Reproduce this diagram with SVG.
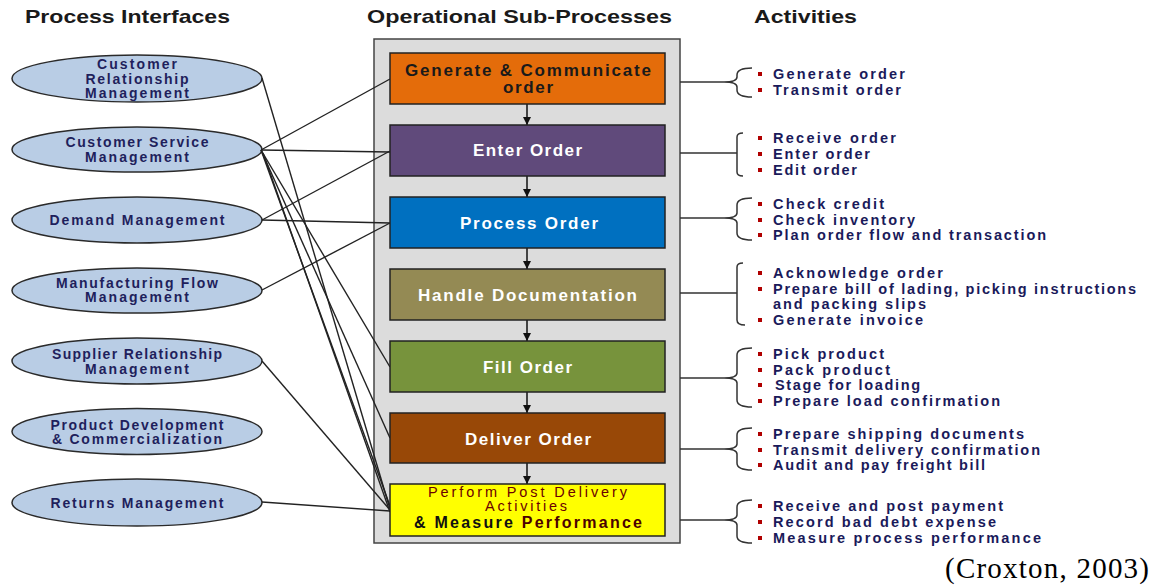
<svg xmlns="http://www.w3.org/2000/svg" width="1152" height="587" viewBox="0 0 1152 587">
<style>
.hdr{font-family:"Liberation Sans",Arial,sans-serif;font-weight:bold;font-size:19px;fill:#1a1a1a}
.ell{fill:#b9cde5;stroke:#2a2a2a;stroke-width:1.5}
.et{font-family:"Liberation Sans",Arial,sans-serif;font-weight:bold;font-size:14px;fill:#1f1f5c;text-anchor:middle}
.box{stroke:#222;stroke-width:1.5}
.bt{font-family:"Liberation Sans",Arial,sans-serif;font-weight:bold;font-size:17px;text-anchor:middle}
.pt{font-family:"Liberation Sans",Arial,sans-serif;font-size:14.5px;text-anchor:middle;fill:#6b0000}
.it{font-family:"Liberation Sans",Arial,sans-serif;font-weight:bold;font-size:14.5px;fill:#1a1a5a}
.bul{fill:#b00000}
.con{stroke:#222;stroke-width:1.4;fill:none}
.brc{stroke:#333;stroke-width:1.5;fill:none}
.flow{stroke:#111;stroke-width:1.5;fill:none}
</style>
<defs>
<marker id="ah" viewBox="0 0 10 10" refX="10" refY="5" markerWidth="8" markerHeight="8" markerUnits="userSpaceOnUse" orient="auto">
<path d="M0,0 L10,5 L0,10 z" fill="#111"/>
</marker>
</defs>
<rect width="1152" height="587" fill="#ffffff"/>

<!-- headers -->
<text class="hdr" x="25" y="23" textLength="205" lengthAdjust="spacingAndGlyphs">Process Interfaces</text>
<text class="hdr" x="367" y="23" textLength="305" lengthAdjust="spacingAndGlyphs">Operational Sub-Processes</text>
<text class="hdr" x="754" y="23" textLength="103" lengthAdjust="spacingAndGlyphs">Activities</text>

<!-- container -->
<rect id="container" x="374" y="39" width="306" height="504" fill="#dcdcdc" stroke="#444" stroke-width="1.5"/>

<!-- process interfaces -->
<g id="crm"><ellipse class="ell" cx="137" cy="78.5" rx="125" ry="23.5"/>
<text class="et" x="137" y="69" textLength="80" lengthAdjust="spacing">Customer</text>
<text class="et" x="137" y="83.5" textLength="103" lengthAdjust="spacing">Relationship</text>
<text class="et" x="137" y="98" textLength="104" lengthAdjust="spacing">Management</text></g>
<g id="csm"><ellipse class="ell" cx="137" cy="149.5" rx="125" ry="22.5"/>
<text class="et" x="137" y="147" textLength="143" lengthAdjust="spacing">Customer Service</text>
<text class="et" x="137" y="162" textLength="104" lengthAdjust="spacing">Management</text></g>
<g id="dm"><ellipse class="ell" cx="137" cy="220" rx="125" ry="23"/>
<text class="et" x="137" y="225" textLength="175" lengthAdjust="spacing">Demand Management</text></g>
<g id="mfm"><ellipse class="ell" cx="137" cy="290.5" rx="125" ry="22.5"/>
<text class="et" x="137" y="288" textLength="162" lengthAdjust="spacing">Manufacturing Flow</text>
<text class="et" x="137" y="302" textLength="104" lengthAdjust="spacing">Management</text></g>
<g id="srm"><ellipse class="ell" cx="137" cy="361" rx="125" ry="23"/>
<text class="et" x="137" y="359" textLength="170" lengthAdjust="spacing">Supplier Relationship</text>
<text class="et" x="137" y="374" textLength="104" lengthAdjust="spacing">Management</text></g>
<g id="pdc"><ellipse class="ell" cx="137" cy="431.5" rx="125" ry="23"/>
<text class="et" x="137" y="430" textLength="173" lengthAdjust="spacing">Product Development</text>
<text class="et" x="137" y="444" textLength="170" lengthAdjust="spacing">&amp; Commercialization</text></g>
<g id="rm"><ellipse class="ell" cx="137" cy="502.5" rx="125" ry="23.5"/>
<text class="et" x="137" y="507.5" textLength="173" lengthAdjust="spacing">Returns Management</text></g>

<!-- connectors -->
<g id="connectors">
<line class="con" x1="262" y1="78" x2="390" y2="509"/>
<line class="con" x1="261" y1="150" x2="390" y2="79"/>
<line class="con" x1="261" y1="150" x2="390" y2="152"/>
<line class="con" x1="261" y1="150" x2="390" y2="367"/>
<line class="con" x1="261" y1="150" x2="390" y2="438"/>
<line class="con" x1="261" y1="150" x2="390" y2="506"/>
<line class="con" x1="263" y1="153" x2="390" y2="512"/>
<line class="con" x1="262" y1="220" x2="390" y2="151"/>
<line class="con" x1="262" y1="220" x2="390" y2="223"/>
<line class="con" x1="262" y1="290" x2="390" y2="223"/>
<line class="con" x1="262" y1="361" x2="390" y2="510"/>
<line class="con" x1="262" y1="502" x2="390" y2="511"/>
<!-- flow arrows -->
<line class="flow" x1="527" y1="104" x2="527" y2="125" marker-end="url(#ah)"/>
<line class="flow" x1="527" y1="176" x2="527" y2="197" marker-end="url(#ah)"/>
<line class="flow" x1="527" y1="248" x2="527" y2="269" marker-end="url(#ah)"/>
<line class="flow" x1="527" y1="320" x2="527" y2="341" marker-end="url(#ah)"/>
<line class="flow" x1="527" y1="392" x2="527" y2="413" marker-end="url(#ah)"/>
<line class="flow" x1="527" y1="463" x2="527" y2="484" marker-end="url(#ah)"/>
<!-- activity braces -->
<path class="brc" d="M680,82 L724,82 M752,68 Q737,68 737,75 L737,77 Q737,82 724,82 Q737,82 737,87 L737,90 Q737,97 752,97"/>
<path class="brc" d="M680,153 L737,153 M743,133 Q737,133 737,137 L737,172 Q737,176 743,176"/>
<path class="brc" d="M680,218 L724,218 M752,198 Q737,198 737,205 L737,213 Q737,218 724,218 Q737,218 737,223 L737,233 Q737,240 752,240"/>
<path class="brc" d="M680,293 L737,293 M743,263 Q737,263 737,267 L737,320 Q737,325 745,325"/>
<path class="brc" d="M680,378 L724,378 M752,348 Q737,348 737,355 L737,373 Q737,378 724,378 Q737,378 737,383 L737,400 Q737,407 752,407"/>
<path class="brc" d="M680,449 L724,449 M752,428 Q737,428 737,435 L737,444 Q737,449 724,449 Q737,449 737,454 L737,463 Q737,470 752,470"/>
<path class="brc" d="M680,520 L724,520 M752,500 Q737,500 737,507 L737,515 Q737,520 724,520 Q737,520 737,525 L737,536 Q737,543 752,543"/>
</g>

<!-- sub-process boxes -->
<g id="generate"><rect class="box" x="390" y="53" width="275" height="51" fill="#e46c0a"/>
<text class="bt" x="528" y="76" fill="#1a1a1a" textLength="246" lengthAdjust="spacing">Generate &amp; Communicate</text>
<text class="bt" x="528" y="93" fill="#1a1a1a" textLength="50" lengthAdjust="spacing">order</text></g>
<g id="enter"><rect class="box" x="390" y="125" width="275" height="51" fill="#604a7b"/>
<text class="bt" x="527.5" y="156" fill="#ffffff" textLength="109" lengthAdjust="spacing">Enter Order</text></g>
<g id="process"><rect class="box" x="390" y="197" width="275" height="51" fill="#0070c0"/>
<text class="bt" x="529" y="229" fill="#ffffff" textLength="138" lengthAdjust="spacing">Process Order</text></g>
<g id="handle"><rect class="box" x="390" y="269" width="275" height="51" fill="#948a54"/>
<text class="bt" x="527.5" y="301" fill="#ffffff" textLength="219" lengthAdjust="spacing">Handle Documentation</text></g>
<g id="fill"><rect class="box" x="390" y="341" width="275" height="51" fill="#77933c"/>
<text class="bt" x="527.5" y="373" fill="#ffffff" textLength="89" lengthAdjust="spacing">Fill Order</text></g>
<g id="deliver"><rect class="box" x="390" y="413" width="275" height="50" fill="#984807"/>
<text class="bt" x="528" y="444.5" fill="#ffffff" textLength="126" lengthAdjust="spacing">Deliver Order</text></g>
<g id="perform"><rect class="box" x="390" y="484" width="275" height="52" fill="#ffff00"/>
<text class="pt" x="527.5" y="497" textLength="199" lengthAdjust="spacing">Perform Post Delivery</text>
<text class="pt" x="526" y="511" textLength="82" lengthAdjust="spacing">Activities</text>
<text class="bt" x="528" y="528" fill="#111" style="font-size:16px" textLength="228" lengthAdjust="spacing">&amp; Measure <tspan fill="#4a0000">Performance</tspan></text></g>

<!-- activities -->
<g id="act-generate">
<rect class="bul" x="758" y="72" width="4" height="4"/><text class="it" x="773" y="79" textLength="132" lengthAdjust="spacing">Generate order</text>
<rect class="bul" x="758" y="88" width="4" height="4"/><text class="it" x="773" y="95" textLength="128" lengthAdjust="spacing">Transmit order</text>
</g>
<g id="act-enter">
<rect class="bul" x="758" y="136" width="4" height="4"/><text class="it" x="773" y="143" textLength="123" lengthAdjust="spacing">Receive order</text>
<rect class="bul" x="758" y="152" width="4" height="4"/><text class="it" x="773" y="159" textLength="97" lengthAdjust="spacing">Enter order</text>
<rect class="bul" x="758" y="168" width="4" height="4"/><text class="it" x="773" y="175" textLength="84" lengthAdjust="spacing">Edit order</text>
</g>
<g id="act-process">
<rect class="bul" x="758" y="202" width="4" height="4"/><text class="it" x="773" y="209" textLength="111" lengthAdjust="spacing">Check credit</text>
<rect class="bul" x="758" y="218" width="4" height="4"/><text class="it" x="773" y="225" textLength="142" lengthAdjust="spacing">Check inventory</text>
<rect class="bul" x="758" y="233" width="4" height="4"/><text class="it" x="773" y="240" textLength="273" lengthAdjust="spacing">Plan order flow and transaction</text>
</g>
<g id="act-handle">
<rect class="bul" x="758" y="271" width="4" height="4"/><text class="it" x="773" y="278" textLength="170" lengthAdjust="spacing">Acknowledge order</text>
<rect class="bul" x="758" y="287" width="4" height="4"/><text class="it" x="773" y="294" textLength="363" lengthAdjust="spacing">Prepare bill of lading, picking instructions</text>
<text class="it" x="773" y="309" textLength="153" lengthAdjust="spacing">and packing slips</text>
<rect class="bul" x="758" y="318" width="4" height="4"/><text class="it" x="773" y="325" textLength="150" lengthAdjust="spacing">Generate invoice</text>
</g>
<g id="act-fill">
<rect class="bul" x="758" y="352" width="4" height="4"/><text class="it" x="773" y="359" textLength="111" lengthAdjust="spacing">Pick product</text>
<rect class="bul" x="758" y="368" width="4" height="4"/><text class="it" x="773" y="375" textLength="117" lengthAdjust="spacing">Pack product</text>
<rect class="bul" x="758" y="383" width="4" height="4"/><text class="it" x="775" y="390" textLength="145" lengthAdjust="spacing">Stage for loading</text>
<rect class="bul" x="758" y="399" width="4" height="4"/><text class="it" x="773" y="406" textLength="227" lengthAdjust="spacing">Prepare load confirmation</text>
</g>
<g id="act-deliver">
<rect class="bul" x="758" y="432" width="4" height="4"/><text class="it" x="773" y="439" textLength="251" lengthAdjust="spacing">Prepare shipping documents</text>
<rect class="bul" x="758" y="448" width="4" height="4"/><text class="it" x="773" y="455" textLength="267" lengthAdjust="spacing">Transmit delivery confirmation</text>
<rect class="bul" x="758" y="463" width="4" height="4"/><text class="it" x="773" y="470" textLength="212" lengthAdjust="spacing">Audit and pay freight bill</text>
</g>
<g id="act-perform">
<rect class="bul" x="758" y="504" width="4" height="4"/><text class="it" x="773" y="511" textLength="230" lengthAdjust="spacing">Receive and post payment</text>
<rect class="bul" x="758" y="520" width="4" height="4"/><text class="it" x="773" y="527" textLength="223" lengthAdjust="spacing">Record bad debt expense</text>
<rect class="bul" x="758" y="536" width="4" height="4"/><text class="it" x="773" y="543" textLength="268" lengthAdjust="spacing">Measure process performance</text>
</g>

<text x="945" y="578" font-family="'Liberation Serif','Times New Roman',serif" font-size="29" fill="#000" textLength="204" lengthAdjust="spacing">(Croxton, 2003)</text>
</svg>
